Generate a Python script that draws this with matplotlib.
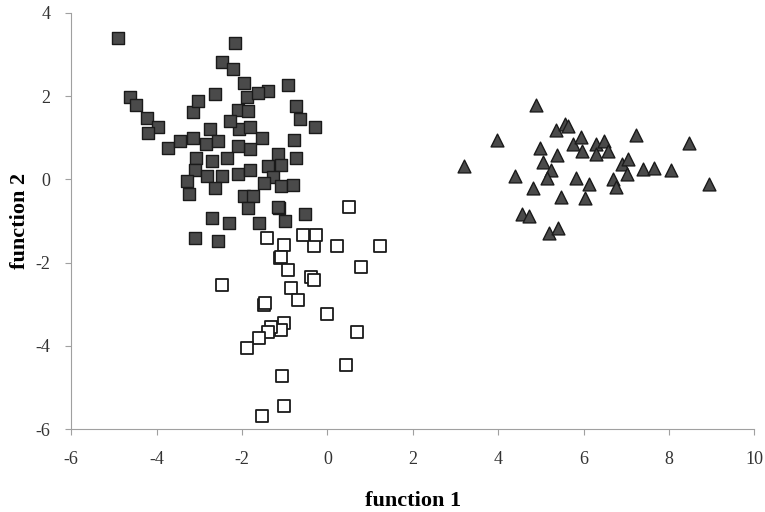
import matplotlib
matplotlib.use("Agg")
import matplotlib.pyplot as plt

# group 1: filled squares
sq_filled_x = [-4.90, -2.17, -2.46, -2.22, -1.96, -1.38, -0.91, -1.87, -1.63, -2.64,
               -4.62, -4.47, -4.22, -3.96, -4.19, -3.72, -3.46, -3.14, -3.04, -2.10,
               -1.85, -0.74, -0.65, -0.30, -2.06, -2.29, -2.74, -3.14, -2.85, -2.57,
               -1.52, -1.80, -0.79, -1.82, -2.10, -2.36, -2.71, -3.07, -3.11, -2.81,
               -2.46, -2.10, -1.80, -1.16, -0.74, -1.09, -1.40, -1.28, -3.28, -3.23,
               -2.62, -1.96, -1.73, -1.85, -1.49, -1.09, -0.81, -1.14, -1.00, -0.53,
               -2.71, -2.31, -1.61, -3.11, -2.57, -1.16]
sq_filled_y = [3.40, 3.28, 2.82, 2.65, 2.31, 2.12, 2.27, 1.98, 2.07, 2.05,
               1.98, 1.78, 1.47, 1.25, 1.11, 0.75, 0.92, 1.61, 1.88, 1.66,
               1.64, 1.76, 1.45, 1.25, 1.20, 1.40, 1.20, 0.99, 0.84, 0.92,
               0.99, 1.25, 0.94, 0.72, 0.80, 0.51, 0.43, 0.51, 0.22, 0.07,
               0.07, 0.12, 0.22, 0.60, 0.51, 0.34, 0.31, 0.05, -0.05, -0.36,
               -0.22, -0.41, -0.39, -0.70, -0.10, -0.17, -0.14, -0.70, -0.99, -0.84,
               -0.92, -1.06, -1.06, -1.40, -1.49, -0.67]

# group 2: open squares
sq_open_x = [0.50, 1.23, 0.78, 0.22, -0.32, -0.27, -0.58, -1.02, -1.42, -1.12,
             -0.93, -0.39, -0.32, -0.84, -0.69, 0.00, -2.46, -1.49, -1.02, -1.09,
             -1.31, -1.38, -1.61, -1.87, 0.69, 0.43, -1.05, -1.02, -1.54, -1.09,
             -1.45]
sq_open_y = [-0.67, -1.61, -2.10, -1.61, -1.61, -1.33, -1.35, -1.57, -1.40, -1.90,
             -2.19, -2.34, -2.41, -2.60, -2.89, -3.23, -2.53, -3.01, -3.45, -3.61,
             -3.54, -3.66, -3.81, -4.05, -3.66, -4.46, -4.72, -5.45, -5.69, -1.86,
             -2.98]

# group 3: triangles
tri_x = [3.20, 3.98, 4.89, 4.40, 4.82, 4.56, 4.73, 5.20, 5.41, 4.99,
         5.36, 5.57, 5.64, 5.38, 5.06, 5.24, 5.15, 5.48, 5.83, 5.76,
         5.95, 5.97, 6.14, 6.04, 6.30, 6.30, 6.49, 6.58, 6.70, 6.75,
         6.89, 7.05, 7.03, 7.24, 7.40, 7.66, 8.04, 8.48, 8.95]
tri_y = [0.33, 0.94, 1.78, 0.07, -0.22, -0.84, -0.87, -1.28, -1.18, 0.75,
         1.18, 1.33, 1.28, 0.58, 0.41, 0.22, 0.02, -0.43, 0.02, 0.84,
         1.01, 0.67, -0.12, -0.46, 0.84, 0.60, 0.92, 0.67, 0.00, -0.19,
         0.36, 0.48, 0.12, 1.06, 0.24, 0.27, 0.22, 0.87, -0.12]

plt.rcParams["font.family"] = ["Liberation Serif", "DejaVu Serif"]
plt.rcParams["axes.unicode_minus"] = False

fig = plt.figure(figsize=(7.65, 5.12), dpi=100)
ax = fig.add_axes([0.093, 0.162, 0.893, 0.813])

ax.scatter(sq_filled_x, sq_filled_y, marker="s", s=70, facecolor="#4a4a4a",
           edgecolor="#1a1a1a", linewidth=1.0, zorder=3)
ax.scatter(sq_open_x, sq_open_y, marker="s", s=70, facecolor="white",
           edgecolor="#1a1a1a", linewidth=1.3, zorder=3)
ax.scatter(tri_x, tri_y, marker="^", s=85, facecolor="#4a4a4a",
           edgecolor="#1a1a1a", linewidth=1.0, zorder=3)

ax.set_xlim(-6, 10)
ax.set_ylim(-6, 4)
ax.set_xticks(range(-6, 11, 2))
ax.set_yticks(range(-6, 5, 2))

for side in ["top", "right"]:
    ax.spines[side].set_visible(False)
for side in ["left", "bottom"]:
    ax.spines[side].set_color("#a0a0a0")
    ax.spines[side].set_linewidth(0.8)

ax.tick_params(axis="both", colors="#a0a0a0", labelcolor="#333333",
               labelsize=13, length=4, width=0.8)
ax.tick_params(axis="x", pad=12)
ax.tick_params(axis="y", pad=11)

ax.set_xlabel("function 1", fontsize=16, fontweight="bold", labelpad=16)
ax.set_ylabel("function 2", fontsize=16, fontweight="bold", labelpad=4)

fig.savefig("out.png", dpi=100)
